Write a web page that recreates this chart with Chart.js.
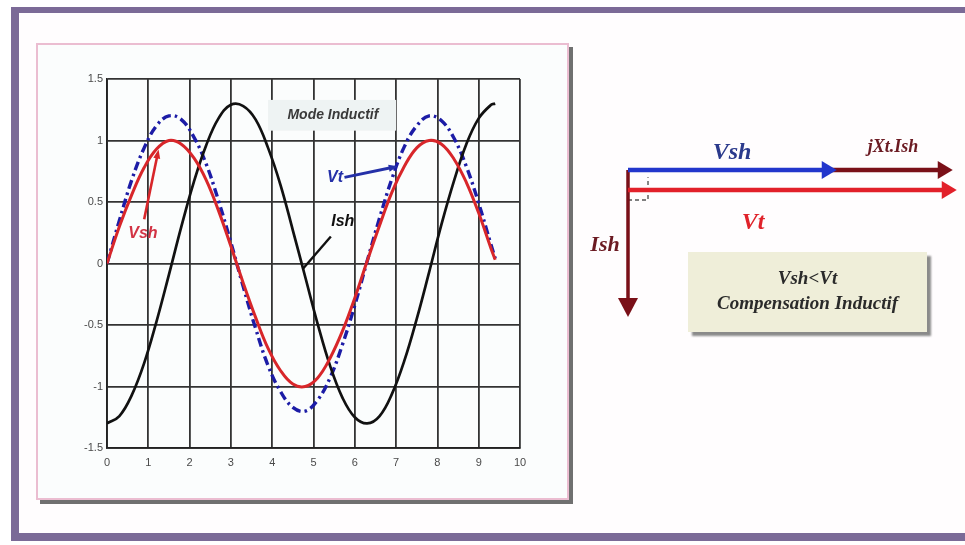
<!DOCTYPE html>
<html>
<head>
<meta charset="utf-8">
<script src="https://cdn.jsdelivr.net/npm/chart.js@4.4.1/dist/chart.umd.min.js"></script>
<style>
  html, body { margin: 0; padding: 0; background: #fff; }
  body { width: 965px; height: 545px; position: relative; overflow: hidden; }
  .frame {
    position: absolute; left: 11px; top: 7px; width: 1000px; height: 520px;
    border-top: 6px solid #7b6a97; border-left: 8px solid #7b6a97; border-bottom: 8px solid #7b6a97;
    background: #fffdfe;
  }
  .plotBox {
    position: absolute; left: 36px; top: 43px; width: 529px; height: 453px;
    border: 2px solid #ebbdd1; background: #fbfdfd;
    box-shadow: 4px 4px 0 #707070;
  }
  #waveChart { position: absolute; left: 37px; top: 44px; }
  #phasorChart { position: absolute; left: 580px; top: 110px; }
  .note {
    position: absolute; left: 688px; top: 252px; width: 239px; height: 80px;
    background: #efeed9; box-shadow: 4px 4px 2px #8a8a8a;
    font: italic bold 19px "Liberation Serif", serif; color: #2a2a2a;
    text-align: center; line-height: 25px; box-sizing: border-box; padding-top: 13px;
  }
</style>
</head>
<body>
<div class="frame"></div>
<div class="plotBox"></div>
<canvas id="waveChart" width="532" height="456"></canvas>
<canvas id="phasorChart" width="385" height="230"></canvas>
<div class="note">Vsh&lt;Vt<br>Compensation Inductif</div>

<script>
// time axis (rad) and the three waveforms
const xs  = [0, 0.3, 0.6, 0.9, 1.2, 1.5, 1.8, 2.1, 2.4, 2.7, 3.0, 3.3, 3.6, 3.9, 4.2, 4.5, 4.8,
             5.1, 5.4, 5.7, 6.0, 6.3, 6.6, 6.9, 7.2, 7.5, 7.8, 8.1, 8.4, 8.7, 9.0, 9.3, 9.4];
const vsh = [0, 0.30, 0.56, 0.78, 0.93, 1.00, 0.97, 0.86, 0.68, 0.43, 0.14, -0.16, -0.44, -0.69, -0.87, -0.98, -1.00,
             -0.93, -0.77, -0.55, -0.28, 0.02, 0.31, 0.58, 0.79, 0.94, 1.00, 0.97, 0.85, 0.66, 0.41, 0.12, 0.03];
const vt  = [0, 0.35, 0.68, 0.94, 1.12, 1.20, 1.17, 1.03, 0.81, 0.51, 0.17, -0.19, -0.53, -0.83, -1.04, -1.17, -1.20,
             -1.11, -0.93, -0.66, -0.34, 0.02, 0.37, 0.69, 0.95, 1.12, 1.20, 1.16, 1.02, 0.79, 0.49, 0.15, 0.04];
const ish = [-1.30, -1.24, -1.07, -0.81, -0.47, -0.09, 0.30, 0.66, 0.96, 1.18, 1.29, 1.28, 1.17, 0.94, 0.64, 0.27, -0.11,
             -0.49, -0.83, -1.09, -1.25, -1.30, -1.24, -1.06, -0.79, -0.45, -0.07, 0.32, 0.67, 0.97, 1.18, 1.29, 1.30];

const xTicks = [0, 1, 2, 3, 4, 5, 6, 7, 8, 9, 10];
const yTicks = [-1.5, -1, -0.5, 0, 0.5, 1, 1.5];

// phasor diagram (units along the diagram axes)
const vshPhasor = [[0, 0], [4.975, 0]];
const jxtPhasor = [[4.975, 0], [7.875, 0]];
const vtPhasor  = [[0, -0.5], [7.975, -0.5]];
const ishPhasor = [[0, 0], [0, -3.365]];
const rightAngle = [[0, -0.75], [0.5, -0.75], [0.5, -0.18]];

const toPts = (arr) => xs.map((x, i) => ({ x: x, y: arr[i] }));
const pairPts = (arr) => arr.map(p => ({ x: p[0], y: p[1] }));

function arrowHead(ctx, x1, y1, x2, y2, len, half, color) {
    const a = Math.atan2(y2 - y1, x2 - x1);
    const ux = Math.cos(a), uy = Math.sin(a);
    const tipX = x2 + ux * len * 0.65, tipY = y2 + uy * len * 0.65;
    const bx = x2 - ux * len * 0.35, by = y2 - uy * len * 0.35;
    ctx.fillStyle = color;
    ctx.beginPath();
    ctx.moveTo(tipX, tipY);
    ctx.lineTo(bx - uy * half, by + ux * half);
    ctx.lineTo(bx + uy * half, by - ux * half);
    ctx.closePath();
    ctx.fill();
}

function pointer(ctx, x1, y1, x2, y2, color, width, head) {
    ctx.strokeStyle = color;
    ctx.lineWidth = width;
    ctx.beginPath();
    ctx.moveTo(x1, y1);
    ctx.lineTo(x2, y2);
    ctx.stroke();
    if (head) arrowHead(ctx, x1, y1, x2, y2, 9, 3.5, color);
}

const waveNotes = {
    id: 'waveNotes',
    beforeDatasetsDraw(chart) {
        const { ctx, scales: { x, y } } = chart;
        ctx.save();
        ctx.fillStyle = '#eef3f3';
        const l = x.getPixelForValue(3.9), r = x.getPixelForValue(7.0);
        const t = y.getPixelForValue(1.33), b = y.getPixelForValue(1.08);
        ctx.fillRect(l, t, r - l, b - t);
        ctx.restore();
    },
    afterDatasetsDraw(chart) {
        const { ctx, scales: { x, y } } = chart;
        const px = v => x.getPixelForValue(v), py = v => y.getPixelForValue(v);
        ctx.save();
        ctx.textAlign = 'center';
        ctx.textBaseline = 'middle';

        ctx.font = 'italic bold 14px "Liberation Sans", Arial, sans-serif';
        ctx.fillStyle = '#3a3a3a';
        ctx.fillText('Mode Inductif', px(5.47), py(1.21));

        ctx.font = 'italic bold 16px "Liberation Sans", Arial, sans-serif';
        ctx.fillStyle = '#2430a8';
        ctx.fillText('Vt', px(5.52), py(0.70));
        pointer(ctx, px(5.75), py(0.70), px(6.9), py(0.78), '#2430a8', 3, true);

        ctx.fillStyle = '#111';
        ctx.fillText('Ish', px(5.71), py(0.34));
        pointer(ctx, px(5.42), py(0.22), px(4.75), py(-0.04), '#111', 2.4, false);

        ctx.fillStyle = '#d23344';
        ctx.fillText('Vsh', px(0.87), py(0.24));
        pointer(ctx, px(0.90), py(0.36), px(1.22), py(0.88), '#d8262a', 2.6, true);
        ctx.restore();
    }
};

new Chart(document.getElementById('waveChart'), {
    type: 'scatter',
    data: {
        datasets: [
            { label: 'Vsh', data: toPts(vsh), borderColor: '#d8262a', borderWidth: 3, order: 1 },
            { label: 'Ish', data: toPts(ish), borderColor: '#111111', borderWidth: 2.7, order: 2 },
            { label: 'Vt', data: toPts(vt), borderColor: '#1c1ca6', borderWidth: 3.4, borderDash: [9, 4, 2.5, 4], order: 3 }
        ]
    },
    options: {
        responsive: false,
        animation: false,
        showLine: true,
        layout: { padding: { top: 35, right: 49, left: 0, bottom: 0 } },
        elements: {
            point: { radius: 0 },
            line: { tension: 0.4, fill: false }
        },
        plugins: { legend: { display: false }, tooltip: { enabled: false } },
        scales: {
            x: {
                type: 'linear', min: 0, max: 10,
                afterBuildTicks: (s) => { s.ticks = xTicks.map(v => ({ value: v })); },
                afterFit: (s) => { s.height = 52; },
                grid: { color: '#333333', lineWidth: 1.8, drawTicks: false },
                border: { color: '#222', width: 1.8 },
                ticks: { padding: 8, maxRotation: 0, color: '#4a4a4a',
                         font: { family: '"Liberation Sans", Arial, sans-serif', size: 11 },
                         callback: v => String(v) }
            },
            y: {
                type: 'linear', min: -1.5, max: 1.5,
                afterBuildTicks: (s) => { s.ticks = yTicks.map(v => ({ value: v })); },
                afterFit: (s) => { s.width = 70; },
                grid: { color: '#333333', lineWidth: 1.8, drawTicks: false },
                border: { color: '#222', width: 1.8 },
                ticks: { padding: 4, color: '#4a4a4a',
                         font: { family: '"Liberation Sans", Arial, sans-serif', size: 11 },
                         callback: v => String(v) }
            }
        }
    },
    plugins: [waveNotes]
});

const phasorNotes = {
    id: 'phasorNotes',
    afterDatasetsDraw(chart) {
        const { ctx, scales: { x, y } } = chart;
        const px = v => x.getPixelForValue(v), py = v => y.getPixelForValue(v);
        ctx.save();
        chart.data.datasets.forEach(ds => {
            if (!ds.head) return;
            const n = ds.data.length;
            const a = ds.data[n - 2], b = ds.data[n - 1];
            arrowHead(ctx, px(a.x), py(a.y), px(b.x), py(b.y), ds.head[0], ds.head[1], ds.borderColor);
        });
        ctx.textAlign = 'center';
        ctx.textBaseline = 'middle';
        const serif = '"Liberation Serif", "Times New Roman", serif';
        ctx.font = 'italic bold 24px ' + serif;
        ctx.fillStyle = '#2b3a8c';
        ctx.fillText('Vsh', px(2.6), py(0.425));
        ctx.fillStyle = '#e0222a';
        ctx.fillText('Vt', px(3.125), py(-1.325));
        ctx.font = 'italic bold 18px ' + serif;
        ctx.fillStyle = '#6b1a22';
        ctx.fillText('jXt.Ish', px(6.625), py(0.575));
        ctx.font = 'italic bold 22px ' + serif;
        ctx.fillText('Ish', px(-0.575), py(-1.875));
        ctx.restore();
    }
};

new Chart(document.getElementById('phasorChart'), {
    type: 'scatter',
    data: {
        datasets: [
            { data: pairPts(rightAngle), borderColor: '#555', borderWidth: 1.4, borderDash: [4, 3], order: 5 },
            { data: pairPts(ishPhasor), borderColor: '#7a1018', borderWidth: 3.5, head: [19, 10], order: 4 },
            { data: pairPts(vtPhasor), borderColor: '#e2202a', borderWidth: 4.5, head: [15, 9], order: 3 },
            { data: pairPts(jxtPhasor), borderColor: '#7a1018', borderWidth: 4.5, head: [15, 9], order: 2 },
            { data: pairPts(vshPhasor), borderColor: '#2236cc', borderWidth: 4.5, head: [15, 9], order: 1 }
        ]
    },
    options: {
        responsive: false,
        animation: false,
        showLine: true,
        layout: { padding: 0 },
        elements: { point: { radius: 0 }, line: { tension: 0 } },
        plugins: { legend: { display: false }, tooltip: { enabled: false } },
        scales: {
            x: { type: 'linear', min: -1.2, max: 8.425, display: false },
            y: { type: 'linear', min: -4.25, max: 1.5, display: false }
        }
    },
    plugins: [phasorNotes]
});
</script>
</body>
</html>
